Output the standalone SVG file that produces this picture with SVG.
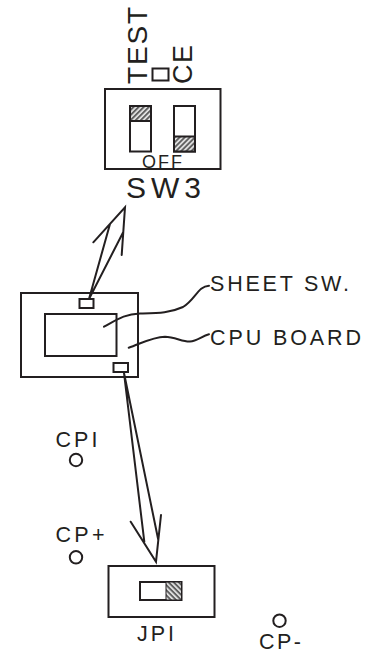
<svg xmlns="http://www.w3.org/2000/svg" width="374" height="653" viewBox="0 0 374 653">
<defs>
<pattern id="hatch" width="3.6" height="3.6" patternUnits="userSpaceOnUse" patternTransform="rotate(-45)"><rect width="3.6" height="3.6" fill="#e4e4e4"/><rect width="3.6" height="1.9" fill="#5f5f5f"/></pattern>
<pattern id="hatch2" width="3.6" height="3.6" patternUnits="userSpaceOnUse" patternTransform="rotate(45)"><rect width="3.6" height="3.6" fill="#e4e4e4"/><rect width="3.6" height="1.9" fill="#5f5f5f"/></pattern>
</defs>
<style>
.b{fill:#fff;stroke:#231f20;stroke-width:2}
.n{fill:none;stroke:#231f20;stroke-width:2}
.l{fill:none;stroke:#231f20;stroke-width:2;stroke-linecap:round;stroke-linejoin:miter}
text{font-family:"Liberation Sans",Arial,sans-serif;fill:#231f20}
.m{font-size:21.5px}
</style>
<g id="sw3">
<rect class="b" x="105" y="89" width="115.5" height="80"/>
<rect class="b" x="130" y="106" width="21" height="45.5"/>
<rect x="130" y="106" width="21" height="15" fill="url(#hatch)" stroke="#231f20" stroke-width="2"/>
<rect class="b" x="174" y="106" width="21" height="45.5"/>
<rect x="174" y="136.5" width="21" height="15" fill="url(#hatch)" stroke="#231f20" stroke-width="2"/>
<text x="142" y="168" font-size="18" textLength="40">OFF</text>
<text x="126" y="198" font-size="30" textLength="75">SW3</text>
<text transform="translate(147 84) rotate(-90)" font-size="28" textLength="77">TEST</text>
<rect class="n" x="152.5" y="68.5" width="16" height="12"/>
<text transform="translate(191.5 84) rotate(-90)" font-size="27" textLength="39">CE</text>
</g>
<g id="cpu-board">
<rect class="b" x="21" y="293" width="117" height="84"/>
<rect class="b" x="45" y="314" width="71.5" height="42"/>
</g>
<g id="sheet-sw-connector"><rect class="b" x="79.5" y="299" width="14" height="9"/></g>
<g id="jp-connector"><rect class="b" x="113.5" y="363" width="14.5" height="9"/></g>
<g id="jpi">
<rect class="b" x="108.5" y="566" width="106" height="51"/>
<rect class="b" x="140" y="582" width="41.5" height="18"/>
<rect x="166" y="582" width="15.5" height="18" fill="url(#hatch2)" stroke="#231f20" stroke-width="1"/>
<text x="137" y="641" class="m" textLength="37">JPI</text>
</g>
<g id="cpi"><circle class="n" cx="76" cy="460" r="6.2"/><text x="55.5" y="446.7" class="m" textLength="42">CPI</text></g>
<g id="cp-plus"><circle class="n" cx="76" cy="557.3" r="6.2"/><text x="55.5" y="541.7" class="m" textLength="49">CP+</text></g>
<g id="cp-minus"><circle class="n" cx="279.5" cy="620.7" r="6.2"/><text x="259" y="648.5" class="m" textLength="42">CP-</text></g>
<g id="labels">
<text x="210" y="290.7" class="m" textLength="139">SHEET SW.</text>
<text x="210" y="345" class="m" textLength="151">CPU BOARD</text>
</g>
<g id="connectors">
<path class="l" d="M89 299 L110 224 M89 299 L123.3 232 M93.3 242.3 L125 207.3 L121.7 255"/>
<path class="l" d="M104 326.7 C118 319 125 314 140 313.5 C158 313 170 313 183 307 C195 300 198 286 209 285.7"/>
<path class="l" d="M128.7 347.7 C140 344 152 337 165 336.7 C175 337 183 342 190 341.5 C197 341 202 336 209 334.3"/>
<path class="l" d="M124 373 L144.3 541.7 M124 373 L158.3 540 M130.7 521.7 L156 561.7 L161 515"/>
</g>
</svg>
